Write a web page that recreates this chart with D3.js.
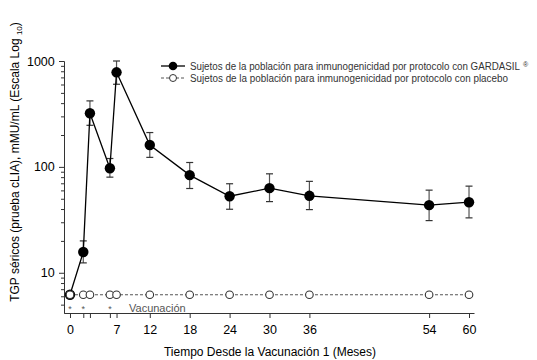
<!DOCTYPE html>
<html><head><meta charset="utf-8">
<script src="https://cdn.jsdelivr.net/npm/d3@7"></script>
<style>body{margin:0;background:#fff}svg{display:block;font-family:"Liberation Sans",Arial,sans-serif}</style>
</head><body><svg id="c" width="537" height="360"></svg>
<script>
const months = [0,2,3,6,7,12,18,24,30,36,54,60];
const gardasil = [6.2,15.7,321,97,782,161,83.6,52.8,63,53.3,43.5,46.4];
const gardasilUpper = [null,20,420,120,1000,211,110,69.3,86,73,60.3,65.8];
const gardasilLower = [null,12.4,247,80,603,123,62.5,39.8,47,39.5,31.1,33];
const placebo = [6.2,6.2,6.2,6.2,6.2,6.2,6.2,6.2,6.2,6.2,6.2,6.2];
const xTicks = [0,2,3,6,7,12,18,24,30,36,54,60];
const xLabels = [0,7,12,18,24,30,36,54,60];
const yMajor = [10,100,1000];
const vaccMonths = [0,2,6];
const legendLabels = ["Sujetos de la población para inmunogenicidad por protocolo con GARDASIL","Sujetos de la población para inmunogenicidad por protocolo con placebo"];

const svg = d3.select("#c");
const x = d3.scaleLinear().domain([-0.9,60.75]).range([64,474]);
const y = d3.scaleLog().domain([4.17,1000]).range([313,61]);

// x axis
const xa = svg.append("g").attr("transform","translate(0,313)")
  .call(d3.axisBottom(x).tickValues(xTicks).tickSize(5).tickSizeOuter(0)
    .tickFormat(d => xLabels.includes(d) ? d : ""));
xa.selectAll("text").attr("font-size",12.5).attr("fill","#000").attr("dy","1.05em").attr("font-family","Liberation Sans, Arial, sans-serif");
xa.selectAll("line,path").attr("stroke","#333");

// y axis
const minor = [];
for (const dec of [1,10,100]) for (let k=2;k<=9;k++){ const v=k*dec; if(v>=y.domain()[0] && v<1000) minor.push(v); }
const ya2 = svg.append("g").attr("transform","translate(64,0)")
  .call(d3.axisLeft(y).tickValues(minor).tickSize(3).tickSizeOuter(0).tickFormat(""));
ya2.selectAll("line,path").attr("stroke","#333");
const ya = svg.append("g").attr("transform","translate(64,0)")
  .call(d3.axisLeft(y).tickValues(yMajor).tickSize(5).tickSizeOuter(0).tickFormat(d3.format("d")));
ya.selectAll("text").attr("font-size",12.5).attr("fill","#000").attr("dx","-0.1em").attr("font-family","Liberation Sans, Arial, sans-serif");
ya.selectAll("line,path").attr("stroke","#333");

// axis titles
const yt = svg.append("text").attr("transform","translate(19,162) rotate(-90)")
  .attr("text-anchor","middle").attr("font-size",12).attr("fill","#000");
yt.append("tspan").text("TGP séricos (prueba cLIA), mMU/mL (Escala Log ");
yt.append("tspan").attr("font-size",8).attr("dy",3).text("10");
yt.append("tspan").attr("dy",-3).text(")");
svg.append("text").attr("x",270).attr("y",356).attr("text-anchor","middle")
  .attr("font-size",12).attr("fill","#000").text("Tiempo Desde la Vacunación 1 (Meses)");

// vaccination markers
svg.selectAll(".ast").data(vaccMonths).join("text").attr("x",d=>x(d)).attr("y",312)
  .attr("text-anchor","middle").attr("font-size",9).attr("fill","#555").text("*");
svg.append("text").attr("x",129).attr("y",311.5).attr("font-size",11).attr("fill","#555").text("Vacunación");

const pts = months.map((m,i)=>({m, g:gardasil[i], u:gardasilUpper[i], l:gardasilLower[i], p:placebo[i]}));
const lineG = d3.line().x(d=>x(d.m)).y(d=>y(d.g));
const lineP = d3.line().x(d=>x(d.m)).y(d=>y(d.p));

// error bars
const eb = pts.filter(d=>d.u!=null);
svg.selectAll(".eb").data(eb).join("line").attr("x1",d=>x(d.m)).attr("x2",d=>x(d.m))
  .attr("y1",d=>y(d.u)).attr("y2",d=>y(d.l)).attr("stroke","#555").attr("stroke-width",1.2);
for (const key of ["u","l"]) {
  svg.selectAll(".cap"+key).data(eb).join("line").attr("x1",d=>x(d.m)-3.5).attr("x2",d=>x(d.m)+3.5)
    .attr("y1",d=>y(d[key])).attr("y2",d=>y(d[key])).attr("stroke","#333").attr("stroke-width",1.2);
}

svg.append("path").datum(pts).attr("d",lineG).attr("fill","none").attr("stroke","#000").attr("stroke-width",1.3);
svg.selectAll(".gp").data(pts).join("circle").attr("cx",d=>x(d.m)).attr("cy",d=>y(d.g)).attr("r",5.2).attr("fill","#000");

svg.append("path").datum(pts).attr("d",lineP).attr("fill","none").attr("stroke","#555").attr("stroke-width",1).attr("stroke-dasharray","3,2");
svg.selectAll(".pp").data(pts).join("circle").attr("cx",d=>x(d.m)).attr("cy",d=>y(d.p)).attr("r",3.8)
  .attr("fill","#fff").attr("stroke","#333").attr("stroke-width",1.1);

// legend
const r1 = 66, r2 = 78;
const lg = svg.append("g");
lg.append("line").attr("x1",161).attr("x2",185).attr("y1",r1).attr("y2",r1).attr("stroke","#000").attr("stroke-width",1.3);
lg.append("circle").attr("cx",173).attr("cy",r1).attr("r",4.3).attr("fill","#000");
lg.append("line").attr("x1",161).attr("x2",185).attr("y1",r2).attr("y2",r2).attr("stroke","#555").attr("stroke-dasharray","3,2");
lg.append("circle").attr("cx",173).attr("cy",r2).attr("r",3.5).attr("fill","#fff").attr("stroke","#333");
lg.append("text").attr("x",190).attr("y",r1+3.5).attr("font-size",10).attr("fill","#333")
  .attr("textLength",330).attr("lengthAdjust","spacingAndGlyphs").text(legendLabels[0]);
lg.append("text").attr("x",523).attr("y",r1+1).attr("font-size",7).attr("fill","#333").text("®");
lg.append("text").attr("x",190).attr("y",r2+3.5).attr("font-size",10).attr("fill","#333")
  .attr("textLength",318).attr("lengthAdjust","spacingAndGlyphs").text(legendLabels[1]);
</script></body></html>
